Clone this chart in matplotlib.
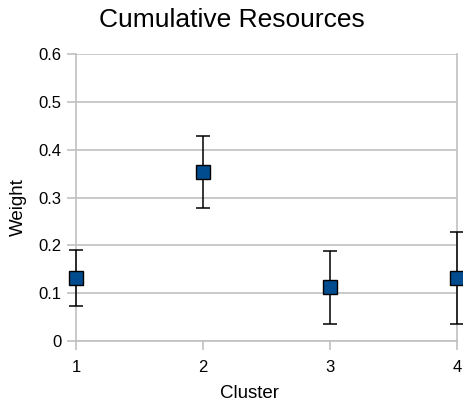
import matplotlib
matplotlib.use("Agg")
import matplotlib.pyplot as plt

plt.rcParams['font.family'] = ['Liberation Sans', 'DejaVu Sans']

clusters = [1, 2, 3, 4]
weights = [0.132, 0.354, 0.112, 0.131]
err_upper = [0.190, 0.429, 0.189, 0.228]
err_lower = [0.073, 0.278, 0.035, 0.035]

yerr = [[w - lo for w, lo in zip(weights, err_lower)],
        [hi - w for w, hi in zip(weights, err_upper)]]

grid_color = '#c0c0c0'
W, H = 463, 408
ax_l, ax_r, ax_t, ax_b = 76, 457, 54, 341

fig = plt.figure(figsize=(W / 100, H / 100), dpi=100)
ax = fig.add_axes([ax_l / W, 1 - ax_b / H, (ax_r - ax_l) / W, (ax_b - ax_t) / H])

ax.errorbar(clusters, weights, yerr=yerr, fmt='none', ecolor='black',
            elinewidth=1.1, capsize=5, capthick=1.1, clip_on=False, zorder=3)
ax.plot(clusters, weights, linestyle='none', marker='s', markersize=10,
        markerfacecolor='#004c8f', markeredgecolor='black', markeredgewidth=1.0,
        clip_on=False, zorder=4)

ax.set_xlim(1, 4)
ax.set_ylim(0, 0.6)
ax.set_xticks(clusters)
ax.set_yticks([0, 0.1, 0.2, 0.3, 0.4, 0.5, 0.6])
ax.set_yticklabels(['0', '0.1', '0.2', '0.3', '0.4', '0.5', '0.6'])

ax.yaxis.grid(True, color=grid_color, linewidth=1.2)
ax.set_axisbelow(True)
for side in ['left', 'bottom', 'right']:
    ax.spines[side].set_color(grid_color)
    ax.spines[side].set_linewidth(1.2)
ax.spines['top'].set_visible(False)

ax.tick_params(axis='both', colors=grid_color, labelcolor='black',
               labelsize=12, length=6.5, width=1.2)
ax.tick_params(axis='x', pad=7)
ax.tick_params(axis='y', pad=4)

# Axis labels positioned in pixel terms relative to the axes box
ax.set_xlabel('Cluster', fontsize=13.5)
ax.xaxis.set_label_coords((250 - ax_l) / (ax_r - ax_l), -(393 - ax_b) / (ax_b - ax_t))
ax.xaxis.label.set_va('center')
ax.set_ylabel('Weight', fontsize=13.5)
ax.yaxis.set_label_coords(-(ax_l - 18) / (ax_r - ax_l), (ax_b - 207) / (ax_b - ax_t))
ax.yaxis.label.set_va('center')

fig.text(232 / W, 1 - 20 / H, 'Cumulative Resources', ha='center', va='center', fontsize=19)

fig.savefig('out.png', dpi=100)
